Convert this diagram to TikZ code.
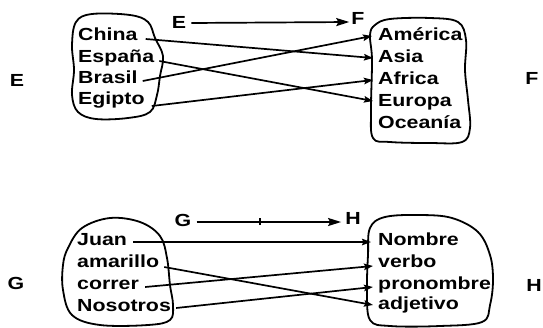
\documentclass[tikz,border=0pt]{standalone}
\usepackage{fontspec}
\setmainfont{Liberation Sans}[FakeStretch=1.22]
\usetikzlibrary{arrows.meta}
\begin{document}
\begin{tikzpicture}[x=1pt,y=-1pt,
  word/.style={anchor=base west,inner sep=0pt,font=\fontsize{17.5}{20}\selectfont\bfseries},
  lbl/.style={anchor=center,inner sep=0pt,font=\fontsize{17.5}{20}\selectfont\bfseries},
  blob/.style={line width=1.8pt,line join=round},
  conn/.style={line width=1.7pt,-{Stealth[length=9pt,width=6.5pt,inset=1.5pt]}},
  head/.style={line width=1.7pt,-{Stealth[length=13pt,width=8pt,inset=2pt]}}]
\useasboundingbox (0,0) rectangle (543,327);
% blobs
\draw[blob] plot[smooth cycle,tension=0.6] coordinates{(76,22) (92,14) (130,15) (148,22) (155,38) (163,56) (160,76) (157,95) (150,112) (128,118) (96,119) (78,112) (72,95) (74,70) (72,45)};
\draw[blob] plot[smooth cycle,tension=0.6] coordinates{(375,25) (390,19) (430,18) (458,22) (466,40) (465,70) (468,100) (470,128) (462,142) (430,143) (390,142) (373,138) (371,110) (372,60) (370,35)};
\draw[blob] plot[smooth cycle,tension=0.6] coordinates{(68,248) (82,228) (110,218) (140,222) (160,236) (167,258) (170,285) (173,305) (170,320) (148,325) (100,325) (72,315) (63,290) (63,265)};
\draw[blob] plot[smooth cycle,tension=0.6] coordinates{(370,228) (385,217) (420,215) (452,218) (478,232) (490,255) (493,280) (490,305) (482,322) (440,326) (390,326) (370,320) (367,290) (368,255)};
% words top
\node[word] (china) at (78,40) {China};
\node[word] (espana) at (78,62) {España};
\node[word] (brasil) at (78,83) {Brasil};
\node[word] (egipto) at (78,104) {Egipto};
\node[word] (america) at (378,40) {América};
\node[word] (asia) at (378,62) {Asia};
\node[word] (africa) at (378,84) {Africa};
\node[word] (europa) at (378,106) {Europa};
\node[word] (oceania) at (378,128) {Oceanía};
% words bottom
\node[word] (juan) at (77,245) {Juan};
\node[word] (amarillo) at (77,267) {amarillo};
\node[word] (correr) at (77,289) {correr};
\node[word] (nosotros) at (77,311) {Nosotros};
\node[word] (nombre) at (378,245) {Nombre};
\node[word] (verbo) at (378,267) {verbo};
\node[word] (pronombre) at (378,289) {pronombre};
\node[word] (adjetivo) at (378,309) {adjetivo};
% side labels
\node[lbl] (Eside) at (17,80) {E};
\node[lbl] (Fside) at (532,78) {F};
\node[lbl] (Gside) at (16,283) {G};
\node[lbl] (Hside) at (534,285) {H};
% header labels
\node[lbl] (Etop) at (179,22) {E};
\node[lbl] (Ftop) at (358,18) {F};
\node[lbl] (Gtop) at (183,220) {G};
\node[lbl] (Htop) at (353,218) {H};
\draw[head] ([xshift=5pt,yshift=-1pt]Etop.east) -- ([xshift=-2pt,yshift=-4pt]Ftop.west);
\draw[head] ([xshift=5pt,yshift=-2pt]Gtop.east) -- ([xshift=-4pt,yshift=-4pt]Htop.west);
\coordinate (tick) at (260,222);
\draw[line width=1.2pt] ([yshift=4pt]tick) -- ([yshift=-3pt]tick);
% connectors top
\draw[conn] ([xshift=8pt,yshift=1pt]china.base east) -- ([xshift=-5pt,yshift=4pt]asia.base west);
\draw[conn] ([xshift=5pt,yshift=1pt]espana.base east) -- ([xshift=-5pt,yshift=5pt]europa.base west);
\draw[conn] ([xshift=5pt,yshift=2pt]brasil.base east) -- ([xshift=-6pt,yshift=4pt]america.base west);
\draw[conn] ([xshift=7pt,yshift=-2pt]egipto.base east) -- ([xshift=-5pt,yshift=4pt]africa.base west);
% connectors bottom
\draw[conn] ([xshift=6pt,yshift=3pt]juan.base east) -- ([xshift=-7pt,yshift=3pt]nombre.base west);
\draw[conn] ([xshift=5pt,yshift=0pt]amarillo.base east) -- ([xshift=-5pt,yshift=4pt]adjetivo.base west);
\draw[conn] ([xshift=6pt,yshift=2pt]correr.base east) -- ([xshift=-5pt,yshift=1pt]verbo.base west);
\draw[conn] ([xshift=5pt,yshift=3pt]nosotros.base east) -- ([xshift=-5pt,yshift=2pt]pronombre.base west);
\end{tikzpicture}
\end{document}
